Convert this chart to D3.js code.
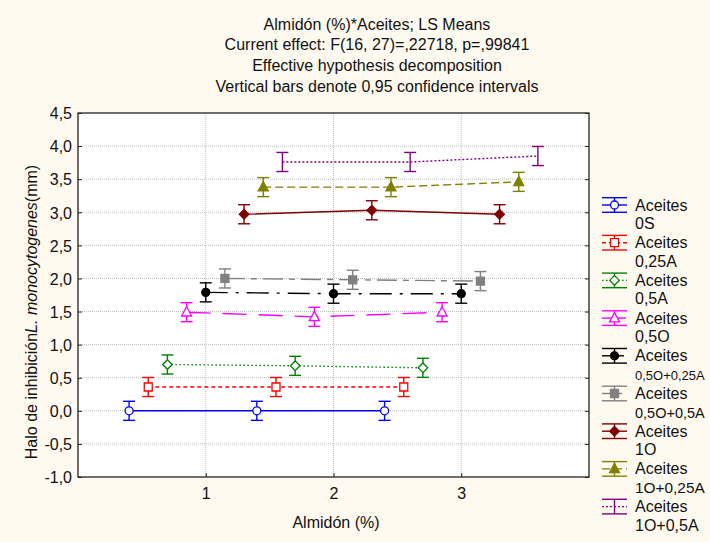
<!DOCTYPE html>
<html>
<head>
<meta charset="utf-8">
<script src="https://cdn.jsdelivr.net/npm/d3@7/dist/d3.min.js"></script>
<style>
  html, body { margin: 0; padding: 0; background: #FFFAF0; overflow: hidden; }
  svg { display: block; }
  text { font-family: "Liberation Sans", Arial, sans-serif; fill: #111; }
</style>
</head>
<body>
<svg id="chart" width="710" height="542"></svg>
<script>
// Almidón levels on the x axis
const almidonLevels = [1, 2, 3];
// Oil treatments (one line per treatment)
const aceites = ["0S", "0,25A", "0,5A", "0,5O", "0,5O+0,25A", "0,5O+0,5A", "1O", "1O+0,25A", "1O+0,5A"];
// LS means of the inhibition halo (mm), per treatment, at Almidón 1, 2, 3
const mean0S      = [0.00, 0.00, 0.00];
const mean025A    = [0.36, 0.36, 0.36];
const mean05A     = [0.70, 0.68, 0.65];
const mean05O     = [1.49, 1.42, 1.49];
const mean05O025A = [1.79, 1.77, 1.77];
const mean05O05A  = [2.00, 1.98, 1.96];
const mean1O      = [2.97, 3.03, 2.97];
const mean1O025A  = [3.38, 3.38, 3.46];
const mean1O05A   = [3.76, 3.76, 3.85];
// half-width of the 0,95 confidence interval
const ciHalf = 0.144;
const yTicks = [-1.0, -0.5, 0.0, 0.5, 1.0, 1.5, 2.0, 2.5, 3.0, 3.5, 4.0, 4.5];
const titleLines = [
  "Almidón (%)*Aceites; LS Means",
  "Current effect: F(16, 27)=,22718, p=,99841",
  "Effective hypothesis decomposition",
  "Vertical bars denote 0,95 confidence intervals"
];

const meansBySeries = [mean0S, mean025A, mean05A, mean05O, mean05O025A, mean05O05A, mean1O, mean1O025A, mean1O05A];

// drawing style for each treatment
const styles = [
  { color: "#0000FF", dash: null,          marker: "circle",   fill: false },
  { color: "#FF0000", dash: "4,3",         marker: "square",   fill: false },
  { color: "#008000", dash: "1.5,2.5",     marker: "diamond",  fill: false },
  { color: "#FF00FF", dash: "24,12",       marker: "triangle", fill: false },
  { color: "#000000", dash: "22,8,3,8",    marker: "circle",   fill: true  },
  { color: "#808080", dash: "20,6,6,6",    marker: "square",   fill: true  },
  { color: "#800000", dash: null,          marker: "diamond",  fill: true  },
  { color: "#808000", dash: "8,4",         marker: "triangle", fill: true  },
  { color: "#800080", dash: "2,2",         marker: null,       fill: false }
];

const FS = 16;
const W = 710;
const svg = d3.select("#chart");
const m = { left: 78, right: 589, top: 113, bottom: 477 };

const x = d3.scaleLinear().domain([0, 4]).range([m.left, m.right]);
const y = d3.scaleLinear().domain([-1, 4.5]).range([m.bottom, m.top]);

// plot background
svg.append("rect").attr("x", m.left).attr("y", m.top)
  .attr("width", m.right - m.left).attr("height", m.bottom - m.top)
  .attr("fill", "#ffffff");

// grid
const grid = svg.append("g");
grid.selectAll("line.h").data(yTicks.filter(t => t > -1 && t < 4.5)).join("line")
  .attr("x1", m.left).attr("x2", m.right)
  .attr("y1", d => y(d)).attr("y2", d => y(d))
  .attr("stroke", "#bdbdbd").attr("stroke-width", 1).attr("stroke-dasharray", "1,1");
grid.selectAll("line.v").data(almidonLevels).join("line")
  .attr("y1", m.top).attr("y2", m.bottom)
  .attr("x1", d => x(d)).attr("x2", d => x(d))
  .attr("stroke", "#bdbdbd").attr("stroke-width", 1).attr("stroke-dasharray", "1,1");

// axes
const fmt = d => d3.format(".1f")(d).replace(".", ",").replace("−", "-");
const yAxis = d3.axisLeft(y).tickValues(yTicks).tickFormat(fmt).tickSizeInner(-4).tickSizeOuter(0).tickPadding(6);
const gy = svg.append("g").attr("transform", `translate(${m.left},0)`).call(yAxis);
gy.select(".domain").remove();
gy.selectAll("text").attr("font-size", FS).attr("dy", "0.36em")
  .style("font-family", "Liberation Sans, Arial, sans-serif").attr("fill", "#111");
gy.selectAll("line").attr("stroke", "#222");

const yAxisR = d3.axisRight(y).tickValues(yTicks).tickFormat("").tickSizeInner(-4).tickSizeOuter(0);
const gyr = svg.append("g").attr("transform", `translate(${m.right},0)`).call(yAxisR);
gyr.select(".domain").remove();
gyr.selectAll("line").attr("stroke", "#222");

const xAxis = d3.axisBottom(x).tickValues(almidonLevels).tickFormat(d3.format("d")).tickSizeInner(-4).tickSizeOuter(0).tickPadding(10.5);
const gx = svg.append("g").attr("transform", `translate(0,${m.bottom})`).call(xAxis);
gx.select(".domain").remove();
gx.selectAll("text").attr("font-size", FS)
  .style("font-family", "Liberation Sans, Arial, sans-serif").attr("fill", "#111");
gx.selectAll("line").attr("stroke", "#222");

// frame
svg.append("rect").attr("x", m.left).attr("y", m.top)
  .attr("width", m.right - m.left).attr("height", m.bottom - m.top)
  .attr("fill", "none").attr("stroke", "#222").attr("stroke-width", 1.3);

// marker shapes, centred on 0,0
function markerPath(type) {
  switch (type) {
    case "circle":   return d3.symbol().type(d3.symbolCircle).size(Math.PI * 16)();
    case "square":   return "M-4,-4H4V4H-4Z";
    case "diamond":  return "M0,-4.8L4.8,0L0,4.8L-4.8,0Z";
    case "triangle": return "M0,-5.5L5,3.8L-5,3.8Z";
  }
}

// series
const offsetStep = 0.15;
const plot = svg.append("g");
meansBySeries.forEach((vals, i) => {
  const st = styles[i];
  const off = (i - 4) * offsetStep;
  const pts = vals.map((v, k) => ({ xv: almidonLevels[k] + off, v }));
  const g = plot.append("g");
  g.append("path")
    .attr("d", d3.line().x(d => x(d.xv)).y(d => y(d.v))(pts))
    .attr("fill", "none").attr("stroke", st.color).attr("stroke-width", 1.4)
    .attr("stroke-dasharray", st.dash);
  pts.forEach(p => {
    const cx = x(p.xv), y0 = y(p.v - ciHalf), y1 = y(p.v + ciHalf);
    g.append("line").attr("x1", cx).attr("x2", cx).attr("y1", y0).attr("y2", y1)
      .attr("stroke", st.color).attr("stroke-width", 1.4);
    [y0, y1].forEach(yy => g.append("line")
      .attr("x1", cx - 6).attr("x2", cx + 6).attr("y1", yy).attr("y2", yy)
      .attr("stroke", st.color).attr("stroke-width", 1.4));
    if (st.marker) {
      g.append("path").attr("d", markerPath(st.marker))
        .attr("transform", `translate(${cx},${y(p.v)})`)
        .attr("fill", st.fill ? st.color : "#ffffff")
        .attr("stroke", st.color).attr("stroke-width", 1.3);
    }
  });
});

// title
svg.append("g").selectAll("text").data(titleLines).join("text")
  .attr("x", 377).attr("y", (d, i) => 29.5 + i * 20.8)
  .attr("text-anchor", "middle").attr("font-size", FS).text(d => d);

// axis titles
svg.append("text").attr("x", 336).attr("y", 527.5).attr("text-anchor", "middle")
  .attr("font-size", FS).text("Almidón (%)");
const yt = svg.append("text").attr("transform", "translate(37,312) rotate(-90)")
  .attr("text-anchor", "middle").attr("font-size", FS);
yt.append("tspan").text("Halo de inhibición");
yt.append("tspan").attr("font-style", "italic").text("L. monocytogenes");
yt.append("tspan").text("(mm)");

// legend
const leg = svg.append("g");
const legTextX = 635;
aceites.forEach((name, i) => {
  const st = styles[i];
  const cy = 205 + i * 37.7;
  const g = leg.append("g");
  const x0 = 602, x1 = 627, xc = 614.5;
  g.append("line").attr("x1", x0).attr("x2", x1).attr("y1", cy).attr("y2", cy)
    .attr("stroke", st.color).attr("stroke-width", 1.4).attr("stroke-dasharray", st.dash);
  [cy - 7.3, cy + 7.3].forEach(yy => g.append("line")
    .attr("x1", x0).attr("x2", x1).attr("y1", yy).attr("y2", yy)
    .attr("stroke", st.color).attr("stroke-width", 1.4));
  g.append("line").attr("x1", xc).attr("x2", xc).attr("y1", cy - 7.3).attr("y2", cy + 7.3)
    .attr("stroke", st.color).attr("stroke-width", 1.4);
  if (st.marker) {
    g.append("path").attr("d", markerPath(st.marker))
      .attr("transform", `translate(${xc},${cy})`)
      .attr("fill", st.fill ? st.color : "#ffffff")
      .attr("stroke", st.color).attr("stroke-width", 1.3);
  }
  g.append("text").attr("x", legTextX).attr("y", cy + 5.5).attr("font-size", FS).text("Aceites");
  const lbl = g.append("text").attr("x", legTextX).attr("y", cy + 24).attr("font-size", FS).text(name);
  // use a smaller font for labels too long for the space left of the page edge
  const avail = W - 5 - legTextX;
  const len = lbl.node().getComputedTextLength();
  if (len > avail) lbl.attr("font-size", Math.floor(FS * avail / len * 10) / 10);
});
</script>
</body>
</html>
